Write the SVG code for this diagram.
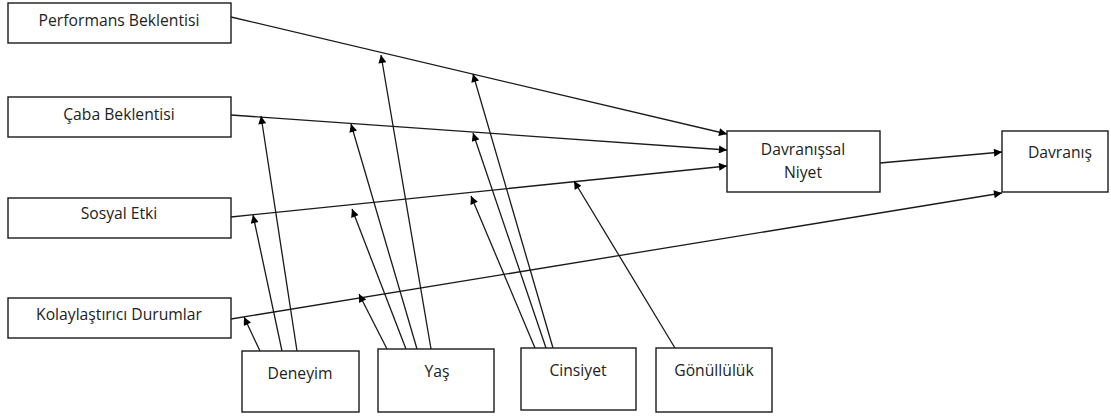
<svg xmlns="http://www.w3.org/2000/svg" width="1111" height="417" viewBox="0 0 1111 417">
  <style>
    .box { fill: #ffffff; stroke: #1a1a1a; stroke-width: 1.4; }
    .lbl { font-family: "Open Sans", "Liberation Sans", sans-serif; font-size: 15.7px; fill: #222222; text-anchor: middle; }
    .edge { stroke: #1a1a1a; stroke-width: 1.3; fill: none; marker-end: url(#arrow); }
  </style>
  <defs>
    <marker id="arrow" viewBox="0 0 10 10" refX="10" refY="5" markerWidth="9" markerHeight="8" markerUnits="userSpaceOnUse" orient="auto">
      <path d="M0,0 L10,5 L0,10 Z" fill="#000000"/>
    </marker>
  </defs>

  <rect width="1111" height="417" fill="#ffffff"/>

  <g id="connectors">
    <!-- main paths -->
    <line class="edge" x1="231" y1="17" x2="727" y2="134"/>
    <line class="edge" x1="231" y1="115" x2="727" y2="150"/>
    <line class="edge" x1="231" y1="217" x2="727" y2="166"/>
    <line class="edge" x1="231" y1="319" x2="1002" y2="193"/>
    <line class="edge" x1="880" y1="163" x2="1002" y2="152"/>
    <!-- Deneyim -->
    <line class="edge" x1="260" y1="351" x2="244" y2="317"/>
    <line class="edge" x1="282" y1="351" x2="253" y2="215"/>
    <line class="edge" x1="297" y1="351" x2="261" y2="116"/>
    <!-- Yaş -->
    <line class="edge" x1="387" y1="349" x2="359" y2="294"/>
    <line class="edge" x1="406" y1="349" x2="352" y2="209"/>
    <line class="edge" x1="417" y1="349" x2="351" y2="124"/>
    <line class="edge" x1="431" y1="349" x2="381" y2="55"/>
    <!-- Cinsiyet -->
    <line class="edge" x1="535" y1="348" x2="471" y2="196"/>
    <line class="edge" x1="546" y1="348" x2="473" y2="133"/>
    <line class="edge" x1="553" y1="348" x2="473" y2="74"/>
    <!-- Gönüllülük -->
    <line class="edge" x1="675" y1="348" x2="574" y2="181"/>
  </g>

  <g id="performans">
    <rect class="box" x="8" y="3" width="223" height="40"/>
    <text class="lbl" x="119" y="26">Performans Beklentisi</text>
  </g>
  <g id="caba">
    <rect class="box" x="8" y="97" width="223" height="40"/>
    <text class="lbl" x="119" y="120">Çaba Beklentisi</text>
  </g>
  <g id="sosyal">
    <rect class="box" x="8" y="198" width="223" height="40"/>
    <text class="lbl" x="119" y="219">Sosyal Etki</text>
  </g>
  <g id="kolaylastirici">
    <rect class="box" x="8" y="298" width="223" height="40"/>
    <text class="lbl" x="119" y="320">Kolaylaştırıcı Durumlar</text>
  </g>
  <g id="niyet">
    <rect class="box" x="727" y="131" width="153" height="61"/>
    <text class="lbl" x="803" y="155">Davranışsal</text>
    <text class="lbl" x="803" y="178">Niyet</text>
  </g>
  <g id="davranis">
    <rect class="box" x="1002" y="131" width="106" height="61"/>
    <text class="lbl" x="1060" y="158">Davranış</text>
  </g>
  <g id="deneyim">
    <rect class="box" x="242" y="351" width="117" height="61"/>
    <text class="lbl" x="300" y="379">Deneyim</text>
  </g>
  <g id="yas">
    <rect class="box" x="378" y="349" width="116" height="63"/>
    <text class="lbl" x="437" y="377">Yaş</text>
  </g>
  <g id="cinsiyet">
    <rect class="box" x="521" y="348" width="115" height="62"/>
    <text class="lbl" x="578" y="376">Cinsiyet</text>
  </g>
  <g id="gonulluluk">
    <rect class="box" x="656" y="348" width="116" height="64"/>
    <text class="lbl" x="714" y="376">Gönüllülük</text>
  </g>
</svg>
